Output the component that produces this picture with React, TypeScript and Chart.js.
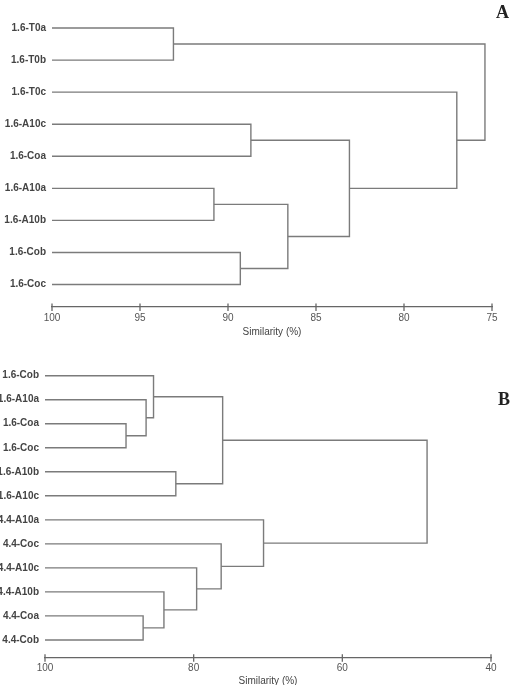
import React, { useEffect, useRef } from "react";
import { Chart, registerables } from "chart.js";

Chart.register(...registerables);

// Panel A: samples of group 1.6
const leavesA = [
  "1.6-T0a",
  "1.6-T0b",
  "1.6-T0c",
  "1.6-A10c",
  "1.6-Coa",
  "1.6-A10a",
  "1.6-A10b",
  "1.6-Cob",
  "1.6-Coc",
];
// each merge joins two nodes (leaves are 0..n-1, merge k becomes node n+k)
const pairsA: [number, number][] = [
  [0, 1],
  [3, 4],
  [5, 6],
  [7, 8],
  [11, 12],
  [10, 13],
  [2, 14],
  [9, 15],
];
const heightsA = [93.1, 88.7, 90.8, 89.3, 86.6, 83.1, 77.0, 75.4];
const ticksA = [100, 95, 90, 85, 80, 75];

// Panel B: groups 1.6 and 4.4
const leavesB = [
  "1.6-Cob",
  "1.6-A10a",
  "1.6-Coa",
  "1.6-Coc",
  "1.6-A10b",
  "1.6-A10c",
  "4.4-A10a",
  "4.4-Coc",
  "4.4-A10c",
  "4.4-A10b",
  "4.4-Coa",
  "4.4-Cob",
];
const pairsB: [number, number][] = [
  [2, 3],
  [1, 12],
  [0, 13],
  [4, 5],
  [14, 15],
  [10, 11],
  [9, 17],
  [8, 18],
  [7, 19],
  [6, 20],
  [16, 21],
];
const heightsB = [89.1, 86.4, 85.4, 82.4, 76.1, 86.8, 84.0, 79.6, 76.3, 70.6, 48.6];
const ticksB = [100, 80, 60, 40];

const LINE = "#7b7b7b";
const AXIS = "#666666";
const TEXT = "#444444";
const SANS = "'Liberation Sans', Arial, Helvetica, sans-serif";

type Pt = { x: number; y: number };

// Turn the merge list into bracket polylines (child -> height -> height -> child)
function buildBrackets(leaves: string[], pairs: [number, number][], heights: number[]): Pt[][] {
  const nodeX: number[] = leaves.map(() => 100);
  const nodeY: number[] = leaves.map((_, i) => i);
  const out: Pt[][] = [];
  pairs.forEach(([a, b], k) => {
    const h = heights[k];
    out.push([
      { x: nodeX[a], y: nodeY[a] },
      { x: h, y: nodeY[a] },
      { x: h, y: nodeY[b] },
      { x: nodeX[b], y: nodeY[b] },
    ]);
    nodeX.push(h);
    nodeY.push((nodeY[a] + nodeY[b]) / 2);
  });
  return out;
}

// Tick marks that cross the similarity axis line
const crossTicks = {
  id: "crossTicks",
  afterDraw(chart: any) {
    const xs = chart.scales.x;
    const ctx = chart.ctx;
    const y = xs.top;
    ctx.save();
    ctx.strokeStyle = AXIS;
    ctx.lineWidth = 1.3;
    xs.ticks.forEach((t: any) => {
      const px = xs.getPixelForValue(t.value);
      ctx.beginPath();
      ctx.moveTo(px, y - 3.5);
      ctx.lineTo(px, y + 4);
      ctx.stroke();
    });
    ctx.restore();
  },
};

type Geo = {
  top: number;
  height: number;
  yMax: number;
  padTop: number;
  padRight: number;
  yWidth: number;
  xHeight: number;
  titlePad: number;
};

function Dendrogram(props: {
  leaves: string[];
  pairs: [number, number][];
  heights: number[];
  ticks: number[];
  geo: Geo;
}) {
  const ref = useRef<HTMLCanvasElement | null>(null);
  const { leaves, pairs, heights, ticks, geo } = props;

  useEffect(() => {
    if (!ref.current) return;
    const brackets = buildBrackets(leaves, pairs, heights);
    const chart = new Chart(ref.current, {
      type: "scatter",
      data: {
        datasets: brackets.map((pts) => ({
          data: pts,
          showLine: true,
          borderColor: LINE,
          borderWidth: 1.4,
          pointRadius: 0,
          pointHoverRadius: 0,
          tension: 0,
          fill: false,
          clip: false as any,
        })),
      },
      options: {
        animation: false,
        responsive: false,
        devicePixelRatio: 1,
        events: [],
        layout: { padding: { top: geo.padTop, right: geo.padRight, left: 0, bottom: 0 } },
        plugins: { legend: { display: false }, tooltip: { enabled: false } },
        scales: {
          x: {
            type: "linear",
            position: "bottom",
            reverse: true,
            min: Math.min(...ticks),
            max: Math.max(...ticks),
            afterBuildTicks: (s: any) => {
              s.ticks = ticks.map((v) => ({ value: v }));
            },
            afterFit: (s: any) => {
              s.height = geo.xHeight;
            },
            grid: { display: false, drawTicks: false },
            border: { display: true, color: AXIS, width: 1.3 },
            ticks: {
              autoSkip: false,
              maxRotation: 0,
              padding: 5,
              color: "#555555",
              font: { family: SANS, size: 10 },
            },
            title: {
              display: true,
              text: "Similarity (%)",
              color: TEXT,
              font: { family: SANS, size: 10 },
              padding: { top: 0, bottom: geo.titlePad },
            },
          },
          y: {
            type: "linear",
            reverse: true,
            min: -0.5,
            max: geo.yMax,
            afterBuildTicks: (s: any) => {
              s.ticks = leaves.map((_, i) => ({ value: i }));
            },
            afterFit: (s: any) => {
              s.width = geo.yWidth;
            },
            grid: { display: false, drawTicks: false },
            border: { display: false },
            ticks: {
              autoSkip: false,
              padding: 6,
              color: TEXT,
              font: { family: SANS, size: 10, weight: "bold" },
              callback: (v: any) => leaves[Math.round(Number(v))] ?? "",
            },
          },
        },
      },
      plugins: [crossTicks],
    });
    return () => chart.destroy();
  }, []);

  return (
    <canvas
      ref={ref}
      width={514}
      height={geo.height}
      style={{ position: "absolute", left: 0, top: geo.top, width: 514, height: geo.height, display: "block" }}
    />
  );
}

const geoA: Geo = {
  top: 0,
  height: 340,
  yMax: 8.7,
  padTop: 4,
  padRight: 22,
  yWidth: 52,
  xHeight: 33,
  titlePad: 2,
};

const geoB: Geo = {
  top: 345,
  height: 350,
  yMax: 11.74,
  padTop: 18.7,
  padRight: 23,
  yWidth: 45,
  xHeight: 37.3,
  titlePad: 8,
};

const letterStyle: React.CSSProperties = {
  position: "absolute",
  fontFamily: "'Liberation Serif', 'Times New Roman', serif",
  fontWeight: "bold",
  fontSize: 18,
  lineHeight: "18px",
  color: "#222222",
};

export default function App() {
  return (
    <div
      style={{
        position: "fixed",
        left: 0,
        top: 0,
        width: 514,
        height: 685,
        overflow: "hidden",
        background: "#ffffff",
      }}
    >
      <Dendrogram leaves={leavesA} pairs={pairsA} heights={heightsA} ticks={ticksA} geo={geoA} />
      <Dendrogram leaves={leavesB} pairs={pairsB} heights={heightsB} ticks={ticksB} geo={geoB} />
      <div style={{ ...letterStyle, left: 496, top: 2.5 }}>A</div>
      <div style={{ ...letterStyle, left: 498, top: 390 }}>B</div>
    </div>
  );
}
